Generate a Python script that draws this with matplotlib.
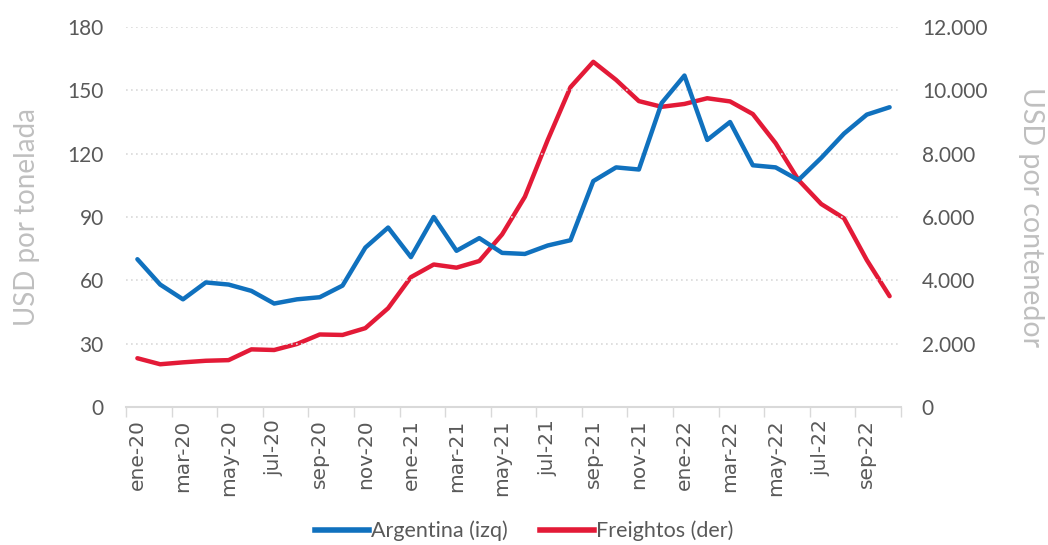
import numpy as np
import matplotlib.pyplot as plt
from matplotlib.ticker import FuncFormatter, FixedLocator

plt.rcParams['font.family'] = ['Lato', 'DejaVu Sans']

# monthly data, ene-20 .. oct-22
months = ['ene', 'feb', 'mar', 'abr', 'may', 'jun', 'jul', 'ago', 'sep', 'oct', 'nov', 'dic']
labels = [f'{m}-{y}' for y in ('20', '21', '22') for m in months][:34]

argentina = [70, 58, 51, 59, 58, 55, 49, 51, 52, 57.5, 75.5, 85, 71, 90, 74, 80, 73, 72.5,
             76.5, 79, 107, 113.5, 112.5, 144, 157, 126.5, 135, 114.5, 113.5, 107.5, 118, 129.5,
             138.5, 142]
freightos = [1540, 1350, 1410, 1460, 1480, 1820, 1800, 1990, 2290, 2275, 2490, 3120, 4100, 4500,
             4400, 4610, 5450, 6640, 8430, 10100, 10900, 10330, 9660, 9480, 9570, 9750, 9650,
             9250, 8330, 7170, 6410, 5960, 4640, 3500]

blue = '#1071BE'
red = '#E31A37'
tick_col = '#595959'
lab_col = '#BFBFBF'

x = np.arange(len(labels))

fig = plt.figure(figsize=(10.48, 5.45), dpi=100)
ax = fig.add_axes([126 / 1048, 1 - 407 / 545, (901 - 126) / 1048, 380 / 545])
ax2 = ax.twinx()

ax2.plot(x, freightos, color=red, lw=3.2, solid_capstyle='round', solid_joinstyle='round')
ax.plot(x, argentina, color=blue, lw=3.2, solid_capstyle='round', solid_joinstyle='round')
ax.set_zorder(ax2.get_zorder() + 1)
ax.patch.set_visible(False)

ax.set_xlim(-0.5, len(labels) - 0.5)
ax.set_ylim(0, 180)
ax2.set_ylim(0, 12000)
ax.set_yticks(np.arange(0, 181, 30))
ax2.set_yticks(np.arange(0, 12001, 2000))
ax2.yaxis.set_major_formatter(FuncFormatter(lambda v, p: f'{int(v):,}'.replace(',', '.')))

# grid
for v in np.arange(30, 181, 30):
    ax.axhline(v, color='#D9D9D9', lw=1.2, ls=(0, (1, 2)), zorder=0)

# x ticks: labels at every 2nd category, tick marks on boundaries
ax.set_xticks(x[::2])
ax.set_xticklabels(labels[::2], rotation=90, family=['DejaVu Sans'])
ax.xaxis.set_minor_locator(FixedLocator(np.arange(-0.5, len(labels), 2)))
ax.tick_params(axis='x', which='major', length=0, pad=9, labelsize=14.5, labelcolor=tick_col)
ax.tick_params(axis='x', which='minor', length=7, width=1, color='#D9D9D9')
ax.tick_params(axis='y', length=0, pad=16, labelsize=15, labelcolor=tick_col)
ax2.tick_params(axis='y', length=0, pad=15, labelsize=15, labelcolor=tick_col)

for a in (ax, ax2):
    for s in ('top', 'left', 'right', 'bottom'):
        a.spines[s].set_visible(False)
ax.spines['bottom'].set_visible(True)
ax.spines['bottom'].set_color('#D9D9D9')
ax.spines['bottom'].set_linewidth(1.5)

ax.set_ylabel('USD por tonelada', fontsize=20, color=lab_col, labelpad=20)
ax2.set_ylabel('USD por contenedor', fontsize=20.5, color=lab_col, rotation=270, labelpad=41)

h1, = ax.plot([], [], color=blue, lw=4)
h2, = ax.plot([], [], color=red, lw=4)
fig.legend([h1, h2], ['Argentina (izq)', 'Freightos (der)'], loc='center',
           bbox_to_anchor=(0.5, 0.026), ncol=2, frameon=False, fontsize=15.5,
           labelcolor=tick_col, handlelength=2.5, columnspacing=1.5, handletextpad=0.1)

fig.savefig('out.png', dpi=100)
